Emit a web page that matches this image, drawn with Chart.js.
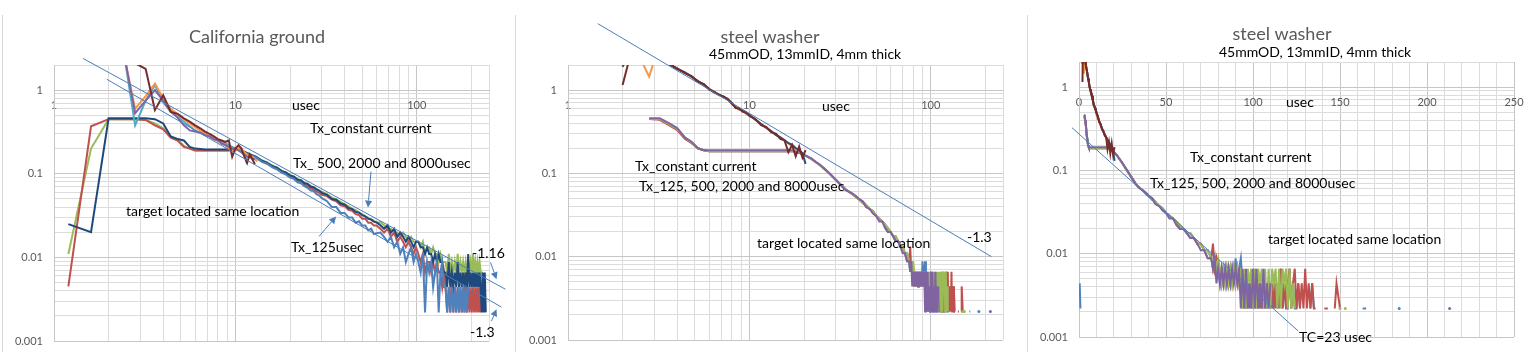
<!DOCTYPE html>
<html><head><meta charset="utf-8">
<script src="https://cdn.jsdelivr.net/npm/chart.js@4.4.1/dist/chart.umd.min.js"></script>
<style>
html,body{margin:0;padding:0;background:#fff;width:1538px;height:361px;overflow:hidden}
canvas{position:absolute;top:0}
</style></head><body>
<canvas id="c1" width="512" height="361" style="left:0px"></canvas>
<canvas id="c2" width="512" height="361" style="left:512px"></canvas>
<canvas id="c3" width="514" height="361" style="left:1024px"></canvas>
<script>
// ================= DATA =================
// axis grid / tick values
const yGridValues = [0.001,0.002,0.003,0.004,0.005,0.006,0.007,0.008,0.009,0.01,0.02,0.03,0.04,0.05,0.06,0.07,0.08,0.09,0.1,0.2,0.3,0.4,0.5,0.6,0.7,0.8,0.9,1,2];
const yLabelValues = [0.001,0.01,0.1,1];
const yLabelTexts = ['0.001','0.01','0.1','1'];
const xLogGridValues = [1,2,3,4,5,6,7,8,9,10,20,30,40,50,60,70,80,90,100,200,250];
const xLogLabelValues = [1,10,100];
const xLogLabelTexts = ['1','10','100'];
const xLinGridValues = [0,10,20,30,40,50,60,70,80,90,100,110,120,130,140,150,160,170,180,190,200,210,220,230,240,250];
const xLinLabelValues = [0,50,100,150,200,250];
const xLinLabelTexts = ['0','50','100','150','200','250'];

// ---- Panel 1: California ground, pulse Tx (usec) ----
const calTimes = [1.2,1.6,2.0,2.4,2.8,3.2,3.6,4.0,4.4,4.8,5.2,5.6,6.0,6.8,7.6,8.4,9.2,10,
 11,12,13,14,15,16,17,18,19,20,21,22,23,24,25,26,27,28,29,30,
 32,34,36,38,40,42,44,46,48,50,52,54,56,58,60,
 63,66,69,72,75,78,81,84,87,90,93,96,99,
 102,105,108,111,114,117,120,123,126,129,132,135,138,141,
 144,147,150,153,156,159,162,165,168,171,174,177,180,183,186,189,192,195,198,201,204,207,210,213,216,219,222,225,
 228,231,234,237,240];
const calTx125 = [null,null,null,null,null,null,null,null,null,null,null,null,null,null,null,null,null,0.2,
 0.184,0.166,0.157,0.139,0.132,0.119,0.113,0.103,0.098,0.09,0.087,0.079,0.077,0.071,0.068,0.063,0.062,0.057,0.055,0.051,
 0.047,0.040,0.040,0.034,0.034,0.030,0.030,0.026,0.027,0.024,0.024,0.021,0.022,0.019,0.0195,
 0.0198,0.0176,0.0154,0.0176,0.0132,0.0154,0.011,0.0132,0.0088,0.011,0.0132,0.0088,0.011,
 0.0088,0.0066,0.011,0.0022,0.0088,0.0066,0.0088,0.0044,0.0066,0.0088,0.0022,0.0066,0.0088,0.0044,
 0.0044,0.0022,0.0044,0.0022,0.0044,0.0022,0.0044,0.0022,0.0044,0.0022,0.0044,0.0022,0.0044,0.0022,0.0044,0.0022,0.0044,null,null,null,null,null,null,null,null,null,null,null,
 null,null,null,null,null];
const calTx500 = [0.0045,0.37,0.45,0.45,0.45,0.44,0.38,0.34,0.27,0.25,0.21,0.2,0.19,0.19,0.19,0.19,0.19,0.2,
 0.182,0.168,0.155,0.141,0.131,0.121,0.113,0.105,0.099,0.092,0.088,0.082,0.079,0.074,0.071,0.067,0.065,0.061,0.059,0.056,
 0.054,0.049,0.047,0.042,0.041,0.037,0.036,0.033,0.032,0.029,0.029,0.026,0.026,0.024,0.024,
 0.022,0.0198,0.022,0.0176,0.0198,0.0154,0.0176,0.0154,0.0132,0.0154,0.0132,0.011,0.0132,
 0.011,0.0088,0.011,0.0066,0.0088,0.0088,0.0066,0.0088,0.0066,0.0088,0.0066,0.0066,0.0044,0.0066,
 0.0044,0.0022,0.0044,0.0022,0.0066,0.0022,0.0044,0.0022,0.0044,0.0022,0.0044,0.0022,0.0044,0.0022,0.0066,0.0022,0.0044,0.0022,0.0044,0.0022,0.0044,0.0022,0.0044,0.0022,0.0044,0.0022,0.0044,0.0022,
 null,null,null,null,null];
const calTx2000 = [0.011,0.2,0.45,0.45,0.45,0.44,0.40,0.35,0.28,0.26,0.215,0.2,0.19,0.19,0.19,0.19,0.19,0.2,
 0.188,0.172,0.158,0.146,0.134,0.126,0.116,0.11,0.102,0.098,0.091,0.088,0.082,0.079,0.074,0.072,0.068,0.066,0.062,0.061,
 0.057,0.052,0.049,0.046,0.043,0.041,0.038,0.037,0.034,0.033,0.031,0.030,0.028,0.0275,0.026,
 0.0264,0.0242,0.022,0.022,0.0198,0.0198,0.0176,0.0198,0.0176,0.0154,0.0176,0.0154,0.0154,
 0.0154,0.0132,0.0154,0.011,0.0132,0.0132,0.011,0.0132,0.011,0.011,0.0088,0.011,0.0088,0.0088,
 0.0088,0.0066,0.011,0.0066,0.0088,0.0066,0.0088,0.0066,0.011,0.0066,0.0088,0.0066,0.0088,0.0066,0.0088,0.0066,0.0088,0.0066,0.0088,0.0066,0.011,0.0066,0.0088,0.0066,0.0088,0.0066,0.0088,0.0066,
 0.0066,0.0044,null,null,null];
const calTx8000 = [0.025,0.02,0.46,0.46,0.46,0.46,0.45,0.40,0.28,0.26,0.25,0.21,0.20,0.195,0.195,0.195,0.195,0.2,
 0.186,0.17,0.16,0.143,0.136,0.123,0.118,0.107,0.104,0.095,0.093,0.085,0.084,0.077,0.076,0.07,0.069,0.065,0.063,0.059,
 0.056,0.05,0.049,0.044,0.043,0.039,0.038,0.035,0.0345,0.032,0.031,0.029,0.0285,0.0268,0.0262,
 0.0242,0.022,0.0242,0.0198,0.022,0.0176,0.0198,0.0176,0.0154,0.0176,0.0154,0.0132,0.0154,
 0.0154,0.0132,0.0132,0.011,0.0132,0.011,0.011,0.0088,0.011,0.0088,0.011,0.0088,0.0088,0.0066,
 0.0066,0.0044,0.0088,0.0044,0.0066,0.0044,0.0066,0.0044,0.0088,0.0044,0.0066,0.0044,0.0066,0.0044,0.0066,0.0044,0.011,0.0044,0.0066,0.0044,0.0066,0.0044,0.0066,0.0044,0.0066,0.0044,0.0066,0.0044,
 0.0022,0.0066,0.0022,0.0066,0.0022];

// ---- Panel 1: California ground, constant current Tx ----
const calCcTimes = [1.2,1.6,2.0,2.4,2.8,3.2,3.6,4.0,4.4,4.8,5.2,5.6,6.0,6.4,6.8,7.2,7.6,8.0,8.4,8.8,9.2,9.6,10,10.4,10.8,11.2,11.6,12,12.4,12.8,13.2];
const calCcA = [9,7,5,3.3,0.38,0.75,1.15,0.72,0.55,0.48,0.42,0.37,0.33,0.31,0.29,0.28,0.26,0.25,0.24,0.23,0.22,0.21,0.2,0.2,0.19,0.18,0.13,null,null,null,null];
const calCcB = [9,7,5,3.0,0.6,0.85,1.2,0.8,0.6,0.52,0.45,0.4,0.36,0.33,0.3,0.28,0.26,0.25,0.23,0.22,0.2,0.19,0.19,0.2,0.2,0.18,0.17,0.16,0.16,0.15,0.14];
const calCcC = [9,7,5,3.2,0.53,0.75,1.0,0.75,0.56,0.47,0.38,0.33,0.32,0.31,0.29,0.28,0.26,0.25,0.23,0.22,0.21,0.2,0.2,0.19,0.18,0.17,0.16,0.16,0.15,0.15,null];
const calCcD = [9,7,5,3.0,2.1,1.8,0.58,0.87,0.55,0.52,0.46,0.42,0.38,0.35,0.32,0.3,0.28,0.26,0.25,0.24,0.25,0.16,0.2,0.22,0.2,0.16,0.135,0.17,0.15,0.13,null];

// ---- Panel 1 slope lines (-1.16, -1.3) and arrows, in data units ----
const calSlope116 = {t:[1.443,308], v:[2.40,0.00416]};
const calSlope13  = {t:[1.955,293], v:[1.35,0.00254]};
const calArrows = [
 {from:[55.9,0.106], to:[53.8,0.0394]},
 {from:[28.9,0.0178], to:[35.9,0.0308]},
 {from:[255,0.0087], to:[275,0.00547]},
 {from:[258,0.00173], to:[275,0.0024]}
];

// ---- Panels 2 & 3: steel washer (same data, log x and linear x) ----
const washTimes = [0.4,0.8,1.2,
 2.8,3.2,3.6,4.0,4.4,4.8,5.2,5.6,6.0,8,10,12,14,16,17.2,18.4,19.6,20.8,
 22,23.2,24.4,25.6,26.8,28,29.5,31,32.5,34,35.5,37,38.5,40,
 42,44,46,48,50,52,54,56,58,60,62,64,66,68,70,72,74,
 76,77,78,79,80,81,82,83,84,85,86,87,88,89,90,91,92,93,
 94,95,96,97,98,99,100,101,102,103,104,105,106,107,108,109,110,111,112,113,114,115,116,117,118,119,120,121,122,123,124,125,126,127,128,129,130,131,132,133,134,135,136,137,
 139,141,143,145,147,148,150,152,153,155,160,163,165,170,180,184,190,200,210,213,216];
const washTx125 = [0.0044,0.0022,null,
 0.45,0.45,0.39,0.34,0.27,0.235,0.20,0.19,0.185,0.185,0.185,0.185,0.185,0.185,0.185,0.18,0.17,0.16,
 0.149,0.137,0.126,0.116,0.106,0.096,0.087,0.078,0.070,0.064,0.060,0.056,0.053,0.049,
 0.0462,0.0418,0.0374,0.0352,0.0308,0.0286,0.0264,0.0242,0.0220,0.0198,0.0176,0.0176,0.0154,0.0132,0.0132,0.0110,0.0110,
 0.0088,0.0066,0.0088,0.0066,0.0066,0.0044,0.0066,0.0044,0.0066,0.0044,0.0066,0.0044,0.0066,0.0044,0.0088,0.0044,0.0066,0.0088,
 0.0044,0.0022,0.0044,0.0022,0.0044,0.0022,0.0044,0.0022,0.0044,0.0022,0.0044,0.0022,0.0044,0.0022,0.0044,0.0022,0.0044,0.0022,0.0044,0.0022,0.0044,0.0022,0.0066,0.0022,0.0044,0.0022,0.0022,0.0066,0.0022,0.0044,0.0022,0.0022,0.0044,0.0022,null,null,null,null,null,0.0022,0.0044,0.0022,null,null,
 null,null,null,null,null,null,null,null,null,null,null,0.0022,0.0022,null,null,0.0022,null,null,null,null,null];
const washTx500 = [null,null,null,
 0.45,0.44,0.38,0.33,0.26,0.23,0.20,0.19,0.185,0.185,0.185,0.185,0.185,0.185,0.185,0.18,0.17,0.16,
 0.149,0.136,0.127,0.116,0.105,0.097,0.087,0.078,0.070,0.064,0.060,0.057,0.052,0.049,
 0.0462,0.0396,0.0374,0.0352,0.0308,0.0286,0.0264,0.0242,0.0198,0.0198,0.0176,0.0154,0.0154,0.0132,0.0132,0.0110,0.0088,
 0.0088,0.0132,0.0066,0.0088,0.0066,0.0066,0.0044,0.0066,0.0044,0.0066,0.0044,0.0066,0.0044,0.0066,0.0044,0.0066,0.0044,0.0066,
 0.0022,0.0044,0.0022,0.0044,0.0022,0.0044,0.0022,0.0066,0.0022,0.0044,0.0022,0.0044,0.0022,0.0044,0.0022,0.0044,0.0022,0.0044,0.0022,0.0044,0.0022,0.0044,0.0066,0.0022,0.0044,0.0022,0.0044,0.0066,0.0022,0.0044,0.0066,0.0022,0.0044,0.0022,0.0044,0.0022,0.0066,0.0022,0.0044,0.0022,0.0044,0.0022,0.0022,null,
 null,0.0022,0.0022,null,0.0022,0.0044,0.0022,null,null,null,null,null,null,null,null,null,null,null,null,null,null];
const washTx2000 = [null,null,null,
 0.45,0.45,0.39,0.34,0.27,0.235,0.20,0.19,0.185,0.185,0.185,0.185,0.185,0.185,0.185,0.18,0.17,0.16,
 0.148,0.137,0.126,0.114,0.106,0.096,0.086,0.077,0.070,0.063,0.060,0.056,0.053,0.049,
 0.0440,0.0418,0.0374,0.0352,0.0308,0.0286,0.0264,0.0242,0.0220,0.0198,0.0176,0.0176,0.0154,0.0132,0.0132,0.0110,0.0110,
 0.0088,0.0066,0.0088,0.0066,0.0088,0.0066,0.0044,0.0066,0.0044,0.0066,0.0044,0.0066,0.0044,0.0066,0.0044,0.0066,0.0044,0.0066,
 0.0022,0.0066,0.0022,0.0066,0.0044,0.0066,0.0022,0.0066,0.0022,0.0066,0.0044,0.0066,0.0022,0.0066,0.0022,0.0066,0.0022,0.0066,0.0044,0.0066,0.0022,0.0066,0.0022,0.0066,0.0044,0.0066,0.0022,0.0066,0.0022,0.0044,0.0022,
 null,null,null,null,null,null,null,null,null,null,null,null,null,
 null,null,null,null,null,null,0.0022,null,0.0022,null,null,null,null,null,null,null,null,null,null,null,null];
const washTx8000 = [null,null,null,
 0.46,0.46,0.40,0.35,0.27,0.24,0.20,0.19,0.19,0.19,0.19,0.19,0.19,0.19,0.19,0.18,0.17,0.16,
 0.150,0.138,0.128,0.117,0.107,0.098,0.086,0.077,0.069,0.063,0.060,0.057,0.054,0.050,
 0.0462,0.0396,0.0374,0.0330,0.0308,0.0264,0.0264,0.0220,0.0198,0.0198,0.0176,0.0154,0.0154,0.0132,0.0110,0.0110,0.0088,
 0.0088,0.0066,0.0088,0.0044,0.0066,0.0044,0.0066,0.0044,0.0066,0.0044,0.0066,0.0044,0.0066,0.0044,0.0066,0.0044,0.0066,0.0022,
 0.0066,0.0022,0.0066,0.0022,0.0044,0.0022,0.0066,0.0022,0.0066,0.0022,0.0044,0.0022,0.0066,0.0022,0.0044,0.0022,0.0044,
 null,null,null,null,null,null,null,null,null,null,null,null,null,null,null,null,null,null,null,null,null,null,null,null,null,null,null,
 null,null,null,null,null,null,null,null,null,null,null,null,null,null,null,null,null,null,null,0.0022,null];

const washCcTimes = [2.0,2.4,2.8,3.2,3.6,4.0,4.4,4.8,5.2,5.6,6.0,6.4,6.8,7.2,7.6,8.0,8.4,8.8,9.2,9.6,10,10.8,11.6,12.4,13.2,14,14.8,15.6,16.4,17.2,18,18.8,19.6,20.4];
const washCcA = [6,4,3,2.5,2.08,1.79,1.64,1.45,1.27,1.17,1.02,0.95,0.88,0.83,0.78,0.7,0.62,0.59,0.56,0.53,0.5,0.44,0.39,0.355,0.32,0.29,0.27,0.25,0.23,0.22,0.2,0.19,0.17,null];
const washCcB = [5,2.9,1.45,3.6,2.1,1.8,1.62,1.44,1.29,1.16,1.04,0.93,0.89,0.82,0.79,0.68,0.63,0.58,0.57,0.52,0.5,0.44,0.39,0.35,0.32,0.29,0.27,0.25,0.23,0.21,0.2,0.185,0.17,null];
const washCcC = [1.9,4,3,2.4,2.05,1.8,1.63,1.45,1.28,1.17,1.03,0.94,0.88,0.83,0.78,0.69,0.62,0.59,0.56,0.53,0.5,0.44,0.39,0.355,0.32,0.29,0.27,0.25,0.23,0.22,0.2,0.19,0.175,0.13];
const washCcD = [1.15,5.3,3.5,2.6,2.05,1.82,1.6,1.47,1.26,1.18,1.02,0.95,0.87,0.84,0.77,0.7,0.61,0.6,0.55,0.54,0.49,0.45,0.38,0.36,0.31,0.3,0.26,0.25,0.18,0.22,0.16,0.21,0.155,0.19];

const washSlope13 = {t:[1.46,216], v:[6.27,0.01]};
const washTC23 = {t:[-4,126], v:[0.325,0.00118]};

// ================= STYLE / BUILD =================
const FONT = 'Lato, "Open Sans", "DejaVu Sans", sans-serif';
const C = {blue:'#4F81BD', red:'#C0504D', green:'#9BBB59', purple:'#8064A2', cyan:'#4BACC6',
  orange:'#F79646', navy:'#1F497D', darkBlue:'#2C4D75', darkRed:'#772C2A', trend:'#4A7EBB'};
const GRID_MAJOR = '#c6c6c6', GRID_MINOR = '#dcdcdc';

function checkLen(name, a, b){ if (a.length !== b.length) console.error('length mismatch', name, a.length, b.length); }
[['calTx125',calTx125],['calTx500',calTx500],['calTx2000',calTx2000],['calTx8000',calTx8000]].forEach(p=>checkLen(p[0],calTimes,p[1]));
[['calCcA',calCcA],['calCcB',calCcB],['calCcC',calCcC],['calCcD',calCcD]].forEach(p=>checkLen(p[0],calCcTimes,p[1]));
[['washTx125',washTx125],['washTx500',washTx500],['washTx2000',washTx2000],['washTx8000',washTx8000]].forEach(p=>checkLen(p[0],washTimes,p[1]));
[['washCcA',washCcA],['washCcB',washCcB],['washCcC',washCcC],['washCcD',washCcD]].forEach(p=>checkLen(p[0],washCcTimes,p[1]));

function pts(times, vals){ return times.map((t,i)=>({x:t, y:vals[i]})); }
function isolatedRadius(ctx){
  const d = ctx.dataset.data, i = ctx.dataIndex;
  if (!d[i] || d[i].y == null) return 0;
  const prev = i > 0 ? d[i-1].y : null, next = i < d.length-1 ? d[i+1].y : null;
  return (prev == null && next == null) ? 1.5 : 0;
}
function series(label, times, vals, color){
  return {label, data: pts(times, vals), borderColor: color, backgroundColor: color, borderWidth: 2,
    pointRadius: isolatedRadius, pointBorderWidth: 0, pointHoverRadius: 0, tension: 0, spanGaps: false, fill: false};
}
function slopeLine(label, obj){
  return {label, data: pts(obj.t, obj.v), borderColor: C.trend, borderWidth: 1, pointRadius: 0,
    tension: 0, fill: false, clip: false};
}
function isDecade(v){ if (!(v > 0)) return false; const l = Math.log10(v); return Math.abs(l - Math.round(l)) < 1e-6; }
function labelFor(v, vals, texts){
  for (let i = 0; i < vals.length; i++) if (Math.abs(v - vals[i]) <= 1e-9 * Math.max(1e-3, Math.abs(vals[i]))) return texts[i];
  return '';
}
const tickFont = {family: FONT, size: 11};
function yScaleCfg(width){
  return {type:'logarithmic', min: 0.001, max: 2, position:'left',
    afterBuildTicks: s => { s.ticks = yGridValues.map(v => ({value: v})); },
    afterFit: s => { s.width = width; },
    ticks:{autoSkip:false, padding:11, color:'#595959', font: tickFont, callback: v => labelFor(v, yLabelValues, yLabelTexts)},
    grid:{drawTicks:false, lineWidth:1, color: c => isDecade(c.tick ? c.tick.value : 0) ? GRID_MAJOR : GRID_MINOR},
    border:{display:true, color: GRID_MAJOR}};
}
function xLogCfg(){
  return {type:'logarithmic', min: 1, max: 250, position:{y: 1},
    afterBuildTicks: s => { s.ticks = xLogGridValues.map(v => ({value: v})); },
    ticks:{autoSkip:false, maxRotation:0, padding:9, color:'#595959', font: tickFont, callback: v => labelFor(v, xLogLabelValues, xLogLabelTexts)},
    grid:{drawTicks:false, lineWidth:1, color: c => isDecade(c.tick ? c.tick.value : 0) ? GRID_MAJOR : GRID_MINOR},
    border:{display:true, color: GRID_MAJOR}};
}
function xLinCfg(){
  return {type:'linear', min: 0, max: 250, position:{y: 1},
    afterBuildTicks: s => { s.ticks = xLinGridValues.map(v => ({value: v})); },
    ticks:{autoSkip:false, maxRotation:0, padding:9, color:'#595959', font: tickFont, callback: v => labelFor(v, xLinLabelValues, xLinLabelTexts)},
    grid:{drawTicks:false, lineWidth:1, color: c => (c.tick && c.tick.value % 50 === 0) ? GRID_MAJOR : GRID_MINOR},
    border:{display:true, color: GRID_MAJOR}};
}
function drawArrow(ctx, x1, y1, x2, y2, color){
  const a = Math.atan2(y2-y1, x2-x1), L = 7, W = 3.5;
  const bx = x2 - L*Math.cos(a), by = y2 - L*Math.sin(a);
  ctx.strokeStyle = color; ctx.fillStyle = color; ctx.lineWidth = 1;
  ctx.beginPath(); ctx.moveTo(x1, y1); ctx.lineTo(bx, by); ctx.stroke();
  ctx.beginPath(); ctx.moveTo(x2, y2);
  ctx.lineTo(bx - W*Math.sin(a), by + W*Math.cos(a));
  ctx.lineTo(bx + W*Math.sin(a), by - W*Math.cos(a));
  ctx.closePath(); ctx.fill();
}
function annotPlugin(cfg){
  return {id:'annot', afterDraw(chart){
    const ctx = chart.ctx, xs = chart.scales.x, ys = chart.scales.y;
    ctx.save();
    ctx.strokeStyle = '#d9d9d9'; ctx.lineWidth = 1;
    ctx.beginPath(); ctx.moveTo(cfg.borderX, 15); ctx.lineTo(cfg.borderX, 352); ctx.stroke();
    (cfg.arrows || []).forEach(a => drawArrow(ctx, xs.getPixelForValue(a.from[0]), ys.getPixelForValue(a.from[1]),
      xs.getPixelForValue(a.to[0]), ys.getPixelForValue(a.to[1]), C.trend));
    cfg.texts.forEach(t => {
      ctx.font = (t.size || 14) + 'px ' + FONT;
      ctx.fillStyle = t.color || '#000';
      ctx.textAlign = t.align || 'left';
      ctx.textBaseline = 'middle';
      ctx.fillText(t.s, t.x, t.y);
    });
    ctx.restore();
  }};
}
// datasets listed bottom-to-top; Chart.js paints index 0 last (on top), so reverse
function makeChart(id, bottomToTop, xCfg, yWidth, padding, annot){
  return new Chart(document.getElementById(id), {
    type:'line', data:{datasets: bottomToTop.slice().reverse()},
    options:{responsive:false, animation:false, devicePixelRatio:1, events:[],
      layout:{padding},
      plugins:{legend:{display:false}, title:{display:false}, tooltip:{enabled:false}},
      scales:{x: xCfg, y: yScaleCfg(yWidth)}},
    plugins:[annotPlugin(annot)]
  });
}

// ---- Panel 1 ----
makeChart('c1', [
  series('Tx_2000usec', calTimes, calTx2000, C.green),
  series('Tx_500usec', calTimes, calTx500, C.red),
  series('Tx_8000usec', calTimes, calTx8000, C.navy),
  series('Tx_125usec', calTimes, calTx125, C.blue),
  series('Tx_constant current A', calCcTimes, calCcA, C.cyan),
  series('Tx_constant current B', calCcTimes, calCcB, C.orange),
  series('Tx_constant current C', calCcTimes, calCcC, C.purple),
  series('Tx_constant current D', calCcTimes, calCcD, C.darkRed),
  slopeLine('slope -1.16', calSlope116),
  slopeLine('slope -1.3', calSlope13)
], xLogCfg(), 54, {left:0, top:65, right:23, bottom:20}, {
  borderX: 2.5, arrows: calArrows,
  texts:[
    {s:'California ground', x:257, y:37, size:18, color:'#595959', align:'center'},
    {s:'usec', x:292, y:105},
    {s:'Tx_constant current', x:310, y:128},
    {s:'Tx_ 500, 2000 and 8000usec', x:293, y:163},
    {s:'target located same location', x:126, y:211},
    {s:'Tx_125usec', x:291, y:247},
    {s:'-1.16', x:472, y:253},
    {s:'-1.3', x:470, y:332}
  ]});

// ---- Panels 2 and 3 ----
function washSets(trend){
  return [
    series('Tx_125usec', washTimes, washTx125, C.blue),
    series('Tx_500usec', washTimes, washTx500, C.red),
    series('Tx_2000usec', washTimes, washTx2000, C.green),
    series('Tx_8000usec', washTimes, washTx8000, C.purple),
    series('Tx_constant current A', washCcTimes, washCcA, C.cyan),
    series('Tx_constant current B', washCcTimes, washCcB, C.orange),
    series('Tx_constant current C', washCcTimes, washCcC, C.darkBlue),
    series('Tx_constant current D', washCcTimes, washCcD, C.darkRed),
    trend
  ];
}
makeChart('c2', washSets(slopeLine('slope -1.3', washSlope13)), xLogCfg(), 56, {left:0, top:65, right:21, bottom:21}, {
  borderX: 3.5,
  texts:[
    {s:'steel washer', x:258, y:37, size:18, color:'#595959', align:'center'},
    {s:'45mmOD, 13mmID, 4mm thick', x:197, y:54},
    {s:'usec', x:310, y:106},
    {s:'Tx_constant current', x:123, y:166},
    {s:'Tx_125, 500, 2000 and 8000usec', x:127, y:186},
    {s:'target located same location', x:245, y:243},
    {s:'-1.3', x:455, y:237}
  ]});
makeChart('c3', washSets(slopeLine('TC=23 usec', washTC23)), xLinCfg(), 55, {left:0, top:62, right:24, bottom:24}, {
  borderX: 3.5,
  texts:[
    {s:'steel washer', x:258, y:34, size:18, color:'#595959', align:'center'},
    {s:'45mmOD, 13mmID, 4mm thick', x:195, y:52},
    {s:'usec', x:262, y:102},
    {s:'Tx_constant current', x:166, y:157},
    {s:'Tx_125, 500, 2000 and 8000usec', x:126, y:183},
    {s:'target located same location', x:244, y:239},
    {s:'TC=23 usec', x:275, y:337}
  ]});
</script></body></html>
